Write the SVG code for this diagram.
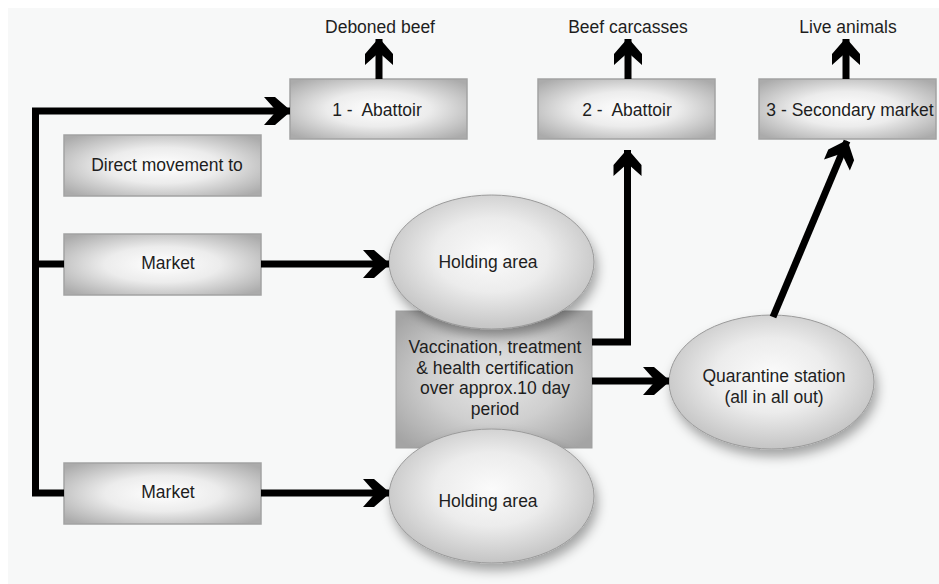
<svg xmlns="http://www.w3.org/2000/svg" width="939" height="584" viewBox="0 0 939 584">
<style>
.t{font-family:"Liberation Sans",Arial,sans-serif;font-size:17.5px;fill:#1e1e1e;text-anchor:middle}
.box{fill:url(#boxG);stroke:#a3a3a3;stroke-width:1.5}
.ell{fill:url(#ellG);stroke:#9a9a9a;stroke-width:1;filter:url(#sh)}
.c{fill:none;stroke:#000;stroke-width:7;stroke-linejoin:miter}
.ca{fill:none;stroke:#000;stroke-width:7;marker-end:url(#ah)}
</style>
<defs>
<radialGradient id="boxG" cx="50%" cy="50%" r="65%">
<stop offset="0" stop-color="#ffffff"/>
<stop offset="0.45" stop-color="#ececec"/>
<stop offset="1" stop-color="#ababab"/>
</radialGradient>
<radialGradient id="vacG" cx="50%" cy="50%" r="65%">
<stop offset="0" stop-color="#e6e6e6"/>
<stop offset="0.5" stop-color="#cfcfcf"/>
<stop offset="1" stop-color="#a4a4a4"/>
</radialGradient>
<radialGradient id="ellG" cx="50%" cy="45%" r="55%">
<stop offset="0" stop-color="#fbfbfb"/>
<stop offset="0.5" stop-color="#ececec"/>
<stop offset="1" stop-color="#c4c4c4"/>
</radialGradient>
<filter id="sh" x="-20%" y="-20%" width="150%" height="160%">
<feDropShadow dx="3" dy="7" stdDeviation="6" flood-color="#000" flood-opacity="0.35"/>
</filter>
<marker id="ah" viewBox="-28 -17 30 34" refX="0" refY="0" markerWidth="30" markerHeight="34" markerUnits="userSpaceOnUse" orient="auto">
<path d="M-26,-14 L-15,-14 L0,-1 L0,1 L-15,14 L-26,14 L-13.5,0 Z" fill="#000"/>
</marker>
</defs>
<rect x="0" y="0" width="939" height="584" fill="#ffffff"/>
<rect x="8" y="8" width="931" height="576" fill="#f7f8f8"/>

<g id="vaccination">
<rect x="396" y="311" width="196" height="137" fill="url(#vacG)" stroke="#a0a0a0" stroke-width="1"/>
<text class="t" x="495" y="353">Vaccination, treatment</text>
<text class="t" x="495" y="374">&amp; health certification</text>
<text class="t" x="495" y="394">over approx.10 day</text>
<text class="t" x="495" y="415">period</text>
</g>
<g id="holding1">
<ellipse class="ell" cx="491.5" cy="262" rx="102.5" ry="67"/>
<text class="t" x="488" y="268">Holding area</text>
</g>
<g id="holding2">
<ellipse class="ell" cx="491.5" cy="496" rx="102.5" ry="67"/>
<text class="t" x="488" y="507">Holding area</text>
</g>
<g id="quarantine">
<ellipse class="ell" cx="771.5" cy="382" rx="102.5" ry="67"/>
<text class="t" x="774" y="382">Quarantine station</text>
<text class="t" x="774" y="403">(all in all out)</text>
</g>
<g id="abattoir1">
<rect class="box" x="290" y="79" width="177" height="60"/>
<text class="t" x="377" y="116" xml:space="preserve">1 -  Abattoir</text>
</g>
<g id="abattoir2">
<rect class="box" x="538" y="79" width="177" height="60"/>
<text class="t" x="627" y="116" xml:space="preserve">2 -  Abattoir</text>
</g>
<g id="secondary">
<rect class="box" x="759" y="79" width="177" height="60"/>
<text class="t" x="850" y="116">3 - Secondary market</text>
</g>
<g id="direct">
<rect class="box" x="64" y="135" width="197" height="61"/>
<text class="t" x="167" y="171">Direct movement to</text>
</g>
<g id="market1">
<rect class="box" x="64" y="234" width="197" height="61"/>
<text class="t" x="168" y="269">Market</text>
</g>
<g id="market2">
<rect class="box" x="64" y="463" width="197" height="61"/>
<text class="t" x="168" y="498">Market</text>
</g>
<g id="out-deboned"><text class="t" x="380" y="33">Deboned beef</text></g>
<g id="out-carcasses"><text class="t" x="628" y="33">Beef carcasses</text></g>
<g id="out-live"><text class="t" x="848" y="33">Live animals</text></g>

<g id="connectors">
<polyline class="ca" points="64,493 35.5,493 35.5,111 290,111"/>
<line class="c" x1="35.5" y1="264" x2="64" y2="264"/>
<line class="ca" x1="261" y1="264" x2="389" y2="264"/>
<line class="ca" x1="261" y1="493" x2="389" y2="493"/>
<polyline class="ca" points="592,342 627.5,342 627.5,150"/>
<line class="ca" x1="592" y1="381" x2="669" y2="381"/>
<line class="ca" x1="773" y1="317" x2="847" y2="141"/>
<line class="ca" x1="379" y1="79" x2="379" y2="39"/>
<line class="ca" x1="628" y1="79" x2="628" y2="39"/>
<line class="ca" x1="846" y1="79" x2="846" y2="39"/>
</g>
</svg>
